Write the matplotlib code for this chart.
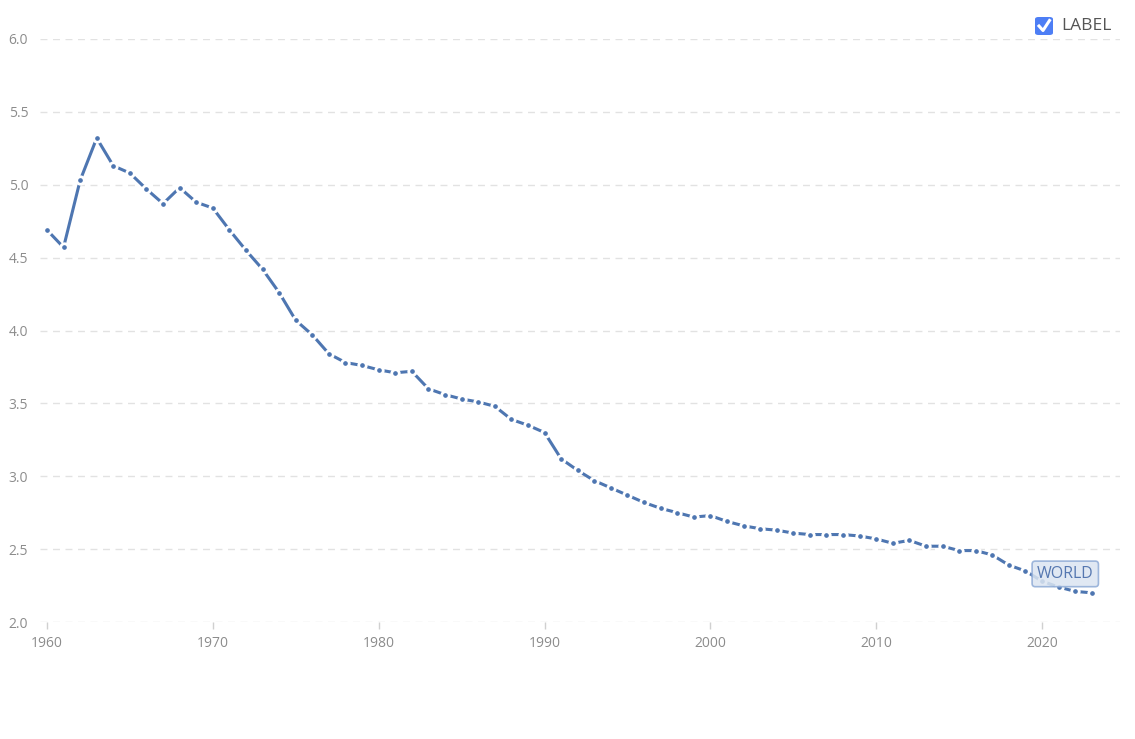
import matplotlib.pyplot as plt
from matplotlib.patches import FancyBboxPatch

years = list(range(1960, 2024))
values = [4.69, 4.57, 5.03, 5.32, 5.13, 5.08, 4.97, 4.87, 4.98, 4.88,
          4.84, 4.69, 4.55, 4.42, 4.26, 4.07, 3.97, 3.84, 3.78, 3.76,
          3.73, 3.71, 3.72, 3.60, 3.56, 3.53, 3.51, 3.48, 3.39, 3.35,
          3.30, 3.12, 3.04, 2.97, 2.92, 2.87, 2.82, 2.78, 2.75, 2.72,
          2.73, 2.69, 2.66, 2.64, 2.63, 2.61, 2.60, 2.60, 2.60, 2.59,
          2.57, 2.54, 2.56, 2.52, 2.52, 2.49, 2.49, 2.46, 2.39, 2.35,
          2.28, 2.24, 2.21, 2.20]
x_ticks = [1960, 1970, 1980, 1990, 2000, 2010, 2020]
y_ticks = [2.0, 2.5, 3.0, 3.5, 4.0, 4.5, 5.0, 5.5, 6.0]

line_color = "#4e76b1"
grey = "#8c8c8c"
plt.rcParams["font.family"] = ["Open Sans", "DejaVu Sans"]

fig = plt.figure(figsize=(11.35, 7.39), dpi=100)
ax = fig.add_axes([40 / 1135, 117 / 739, 1080 / 1135, 583 / 739])

ax.plot(years, values, color=line_color, lw=2.2, marker="o", ms=5.4,
        mfc=line_color, mec="white", mew=2.0, solid_capstyle="butt")

ax.set_xlim(1959.58, 2024.7)
ax.set_ylim(2.0, 6.0)
ax.set_xticks(x_ticks)
ax.set_yticks(y_ticks)
ax.set_yticklabels([f"{v:.1f}" for v in y_ticks])
ax.grid(axis="y", color="#e2e2e2", lw=1.0, linestyle=(0, (5, 4)))
ax.set_axisbelow(True)
for s in ax.spines.values():
    s.set_visible(False)
ax.tick_params(axis="x", length=5, width=1, color="#d0d0d0", labelcolor=grey,
               labelsize=10, pad=5)
ax.tick_params(axis="y", length=0, labelcolor=grey, labelsize=10, pad=8.5)

ax.annotate("WORLD", xy=(2021.4, 2.33), ha="center", va="center",
            fontsize=11.5, color="#5577b0",
            bbox=dict(boxstyle="round,pad=0.3,rounding_size=0.2",
                      fc="#dbe5f1", ec="#8fabd6", lw=1.2, alpha=0.85))

# legend checkbox
box = FancyBboxPatch((1035 / 1135, (739 - 35) / 739), 18 / 1135, 18 / 739,
                     boxstyle="round,pad=0,rounding_size=0.003",
                     transform=fig.transFigure, fc="#4d7ef5", ec="none")
fig.patches.append(box)
fig.lines.append(plt.Line2D([1039 / 1135, 1043 / 1135, 1049.5 / 1135],
                            [(739 - 26) / 739, (739 - 30.5) / 739, (739 - 20.5) / 739],
                            transform=fig.transFigure, color="white", lw=2.2))
fig.text(1061 / 1135, (739 - 26) / 739, "LABEL", fontsize=12.5, color="#555555",
         va="center", ha="left")

fig.savefig("out.png", dpi=100)
